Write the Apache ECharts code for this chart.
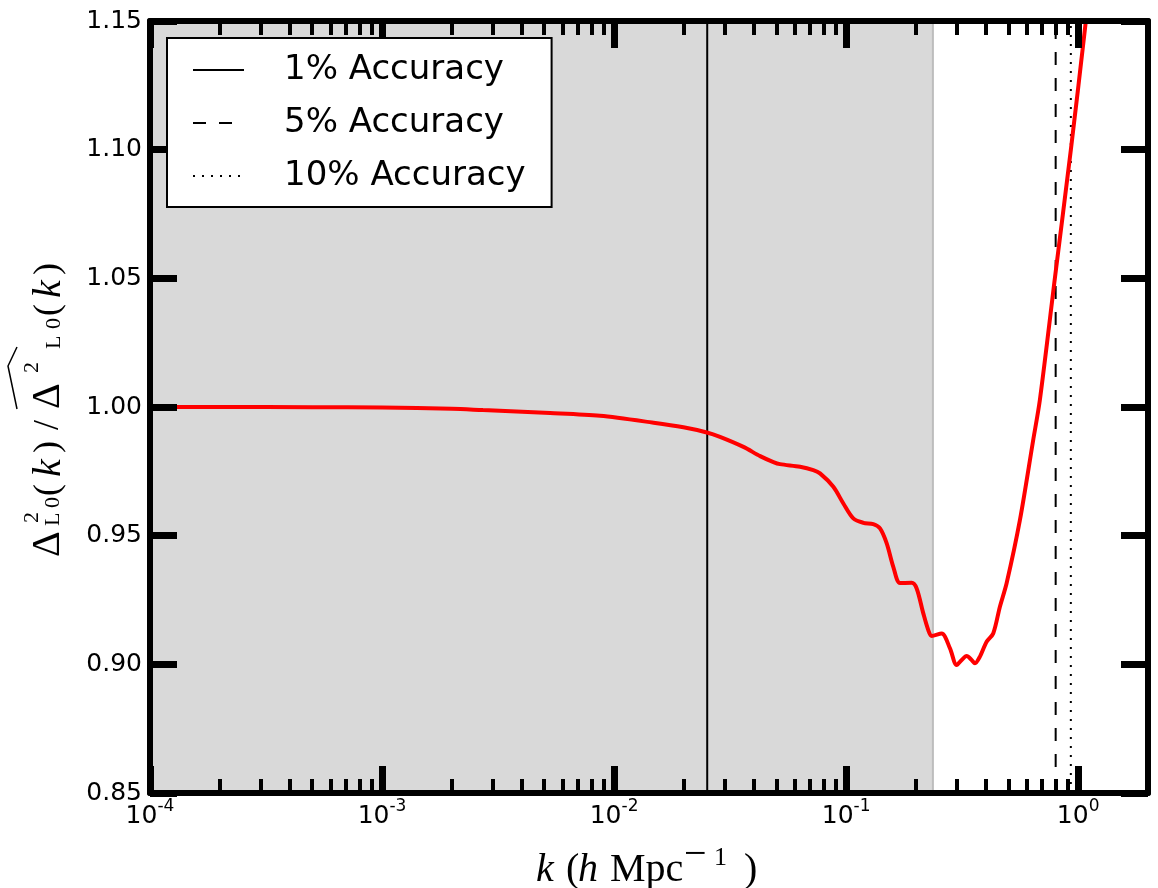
<!DOCTYPE html>
<html>
<head>
<meta charset="utf-8">
<script src="https://cdn.jsdelivr.net/npm/echarts@6/dist/echarts.min.js"></script>
<style>html,body{margin:0;padding:0;background:#fff}#c{width:1158px;height:888px}</style>
</head>
<body>
<div id="c"></div>
<script>
// ---- data ----
const kValues = [1e-4, 2e-4, 5e-4, 1e-3, 2e-3, 2.72e-3, 5.3e-3, 8.7e-3, 0.0148, 0.0199, 0.0251, 0.0286, 0.0361, 0.0426, 0.0486, 0.0519, 0.0633, 0.0722, 0.0772, 0.0881, 0.0973, 0.1074, 0.1186, 0.1309, 0.140, 0.1496, 0.1597, 0.1707, 0.1916, 0.2014, 0.2151, 0.226, 0.2337, 0.258, 0.2803, 0.2995, 0.3148, 0.3307, 0.3475, 0.359, 0.3773, 0.4032, 0.4305, 0.460, 0.4917, 0.561, 0.6397, 0.6839, 0.7938, 0.9302, 1.0795, 1.12];
const ratioValues = [1.0000, 1.0000, 0.99995, 0.99985, 0.9993, 0.9988, 0.9977, 0.9966, 0.9939, 0.9921, 0.9901, 0.9884, 0.9845, 0.9809, 0.9786, 0.9778, 0.9768, 0.9755, 0.9742, 0.969, 0.9625, 0.9567, 0.955, 0.9545, 0.9528, 0.947, 0.9379, 0.9316, 0.9317, 0.9295, 0.9198, 0.9133, 0.911, 0.912, 0.9062, 0.8997, 0.9017, 0.9032, 0.9017, 0.9004, 0.903, 0.9088, 0.912, 0.9224, 0.9315, 0.956, 0.987, 1.0027, 1.05, 1.10, 1.15, 1.165];
const accuracyNames = ['1% Accuracy', '5% Accuracy', '10% Accuracy'];
const accuracyK = [0.0252, 0.80, 0.93];
const shadeRange = [1e-4, 0.2366];
const xMajorTicks = [1e-4, 1e-3, 1e-2, 1e-1, 1];
const yTicks = [0.85, 0.90, 0.95, 1.00, 1.05, 1.10, 1.15];
const xRange = [1e-4, 2];
const yRange = [0.85, 1.15];

// minor ticks 2..9 per decade
const xMinorTicks = [];
for (let e = -4; e <= -1; e++) for (let m = 2; m <= 9; m++) xMinorTicks.push(m * Math.pow(10, e));

const chart = echarts.init(document.getElementById('c'), null, {renderer: 'canvas'});
const SANS = 'DejaVu Sans';
const SERIF = 'Liberation Serif';

function xAxisDef(pos, ticks, len, w, showLine, showLabel) {
  return {
    type: 'log', logBase: 10, min: xRange[0], max: xRange[1], position: pos, z: 10,
    axisLine: {show: showLine, onZero: false, lineStyle: {color: '#000', width: 6}},
    axisTick: {show: true, inside: true, length: len, customValues: ticks, lineStyle: {color: '#000', width: w}},
    axisLabel: showLabel ? {
      show: true, margin: 5, customValues: xMajorTicks,
      formatter: v => '{b|10}{s|' + Math.round(Math.log10(v)) + '}',
      rich: {
        b: {fontSize: 25, fontFamily: SANS, color: '#000'},
        s: {fontSize: 17, fontFamily: SANS, color: '#000', padding: [0, 0, 20, 0]}
      }
    } : {show: false},
    splitLine: {show: false}, minorTick: {show: false}
  };
}
function yAxisDef(pos, showLabel) {
  return {
    type: 'value', min: yRange[0], max: yRange[1], interval: 0.05, position: pos, z: 10,
    axisLine: {show: true, onZero: false, lineStyle: {color: '#000', width: 6}},
    axisTick: {show: true, inside: true, length: 27, lineStyle: {color: '#000', width: 7}},
    axisLabel: showLabel ? {show: true, margin: 8, fontSize: 25, fontFamily: SANS, color: '#000',
      formatter: v => v.toFixed(2)} : {show: false},
    splitLine: {show: false}
  };
}

const series = [
  {
    name: 'shade', type: 'line', data: [], z: 1, silent: true, symbol: 'none',
    markArea: {silent: true, itemStyle: {color: '#d9d9d9', borderColor: '#bdbdbd', borderWidth: 2},
      data: [[{xAxis: shadeRange[0], yAxis: yRange[0]}, {xAxis: shadeRange[1], yAxis: yRange[1]}]]}
  },
  {
    name: 'ratio', type: 'line', z: 5, symbol: 'none', smooth: 0.3, clip: true,
    data: kValues.map((k, i) => [k, ratioValues[i]]),
    lineStyle: {color: '#ff0000', width: 4}, itemStyle: {color: '#ff0000'}
  }
];
const dashTypes = ['solid', [13, 13], [2, 7]];
accuracyNames.forEach((n, i) => {
  series.push({
    name: n, type: 'line', z: 4, symbol: 'none', silent: true,
    data: [[accuracyK[i], yRange[0]], [accuracyK[i], yRange[1]]],
    lineStyle: {color: '#000', width: 2, type: dashTypes[i]}, itemStyle: {color: '#000'}
  });
});

function rt(text, x, y, fs, opts) {
  opts = opts || {};
  return {type: 'text', x: x, y: y, rotation: opts.rot ? Math.PI / 2 : 0, silent: true, z: 20,
    style: {text: text, fontSize: fs, fontFamily: SERIF, fontStyle: opts.it ? 'italic' : 'normal',
      fill: '#000', align: 'left', verticalAlign: 'middle'}};
}
const graphics = [
  // y-axis title (rotated)
  rt('\u0394', 48, 557, 40, {rot: true}),
  rt('2', 32, 523, 22, {rot: true}),
  rt('L', 53, 526, 22, {rot: true}),
  rt('0', 53, 508, 22, {rot: true}),
  rt('(', 49, 496, 36, {rot: true}),
  rt('k', 49, 477, 40, {rot: true, it: true}),
  rt(')', 49, 453, 36, {rot: true}),
  rt('/', 49, 430, 36, {rot: true}),
  rt('\u0394', 48, 409, 40, {rot: true}),
  rt('2', 32, 373, 22, {rot: true}),
  rt('L', 54, 349, 22, {rot: true}),
  rt('0', 54, 329, 22, {rot: true}),
  rt('(', 49, 316, 36, {rot: true}),
  rt('k', 49, 298, 40, {rot: true, it: true}),
  rt(')', 49, 275, 36, {rot: true}),
  {type: 'polyline', silent: true, z: 20, shape: {points: [[17, 409], [8, 366], [17, 347]]},
    style: {stroke: '#000', lineWidth: 1.5, fill: null}},
  // x-axis title
  rt('k', 536, 870, 40, {it: true}),
  rt('(', 566, 870, 40),
  rt('h', 578, 870, 40, {it: true}),
  rt('Mpc', 610, 870, 40),
  rt('\u2212', 684, 855, 40),
  rt('1', 714, 858, 26),
  rt(')', 744, 870, 40)
];

chart.setOption({
  animation: false,
  backgroundColor: '#fff',
  grid: {left: 150, right: 10, top: 21, bottom: 95, containLabel: false, outerBoundsMode: 'none'},
  xAxis: [
    xAxisDef('bottom', xMajorTicks, 27, 7, true, true),
    xAxisDef('bottom', xMinorTicks, 14, 4, false, false),
    xAxisDef('top', xMajorTicks, 27, 7, true, false),
    xAxisDef('top', xMinorTicks, 14, 4, false, false)
  ],
  yAxis: [yAxisDef('left', true), yAxisDef('right', false)],
  legend: {
    orient: 'vertical', left: 167, top: 38, data: accuracyNames, selectedMode: false,
    backgroundColor: '#fff', borderColor: '#000', borderWidth: 2, borderRadius: 0,
    padding: [15, 26, 14, 25], itemWidth: 51, itemHeight: 14, itemGap: 19, z: 15,
    itemStyle: {opacity: 0, borderWidth: 0},
    textStyle: {fontSize: 34, fontFamily: SANS, color: '#000', lineHeight: 34, padding: [0, 0, 0, 35]}
  },
  series: series,
  graphic: graphics
});
</script>
</body>
</html>
